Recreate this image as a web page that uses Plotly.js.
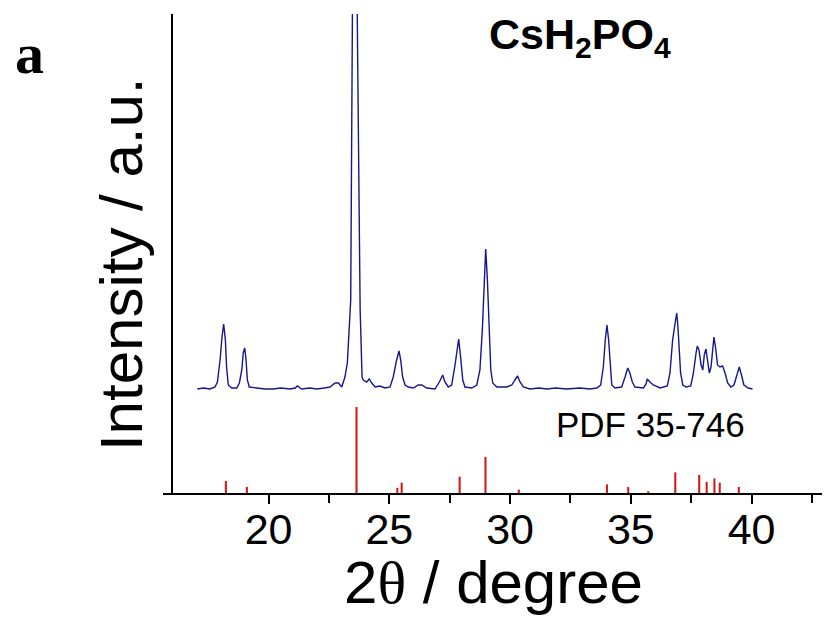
<!DOCTYPE html>
<html>
<head>
<meta charset="utf-8">
<script src="https://cdn.plot.ly/plotly-3.0.1.min.js"></script>
<style>html,body{margin:0;padding:0;background:#fff;}#chart{width:824px;height:625px;}</style>
</head>
<body>
<div id="chart"></div>
<script>
// Measured XRD pattern of CsH2PO4 (2theta in degrees, intensity above background, a.u.)
const xrdTwoTheta = [17.05,17.30,17.57,17.78,17.88,17.99,18.07,18.14,18.21,18.26,18.33,18.47,18.68,18.79,18.89,18.95,19.01,19.06,19.12,19.20,19.51,19.85,20.19,20.50,20.89,21.10,21.19,21.37,21.70,21.99,22.30,22.54,22.75,22.89,23.03,23.16,23.26,23.34,23.40,23.47,23.57,23.67,23.79,23.87,23.92,24.06,24.17,24.27,24.41,24.61,24.82,25.03,25.16,25.30,25.40,25.47,25.55,25.65,25.78,25.99,26.20,26.34,26.55,26.89,27.07,27.21,27.30,27.44,27.58,27.72,27.87,27.95,28.04,28.13,28.41,28.62,28.75,28.85,28.92,28.99,29.06,29.13,29.20,29.28,29.45,29.86,30.07,30.20,30.31,30.41,30.55,30.82,31.20,31.52,31.90,32.34,32.89,33.30,33.59,33.75,33.86,33.94,34.01,34.08,34.14,34.21,34.34,34.62,34.76,34.87,34.96,35.06,35.17,35.52,35.63,35.68,35.79,35.93,36.21,36.51,36.62,36.73,36.84,36.90,36.95,37.01,37.06,37.15,37.28,37.48,37.59,37.70,37.75,37.82,37.91,37.98,38.04,38.11,38.18,38.25,38.32,38.39,38.44,38.51,38.59,38.69,38.80,38.90,39.01,39.14,39.27,39.38,39.49,39.58,39.68,39.86,40.04];
const xrdIntensity = [0,1,0,2,7,29,52,65,49,22,4,1,1,6,19,36,41,31,9,2,1,0,0,1,0,1,3,0,1,0,1,2,6,6,2,12,26,56,89,375,650,375,80,12,9,7,10,6,2,3,1,2,12,29,38,29,12,4,2,1,4,4,1,0,7,14,7,2,4,24,50,32,9,2,1,4,19,59,109,140,109,59,19,6,2,2,4,9,13,7,2,0,1,0,1,0,1,0,1,4,22,49,64,49,22,4,1,2,12,21,16,7,2,1,5,10,7,4,1,3,16,49,67,76,62,39,16,4,2,3,16,36,43,39,24,19,34,40,27,16,22,41,52,41,24,22,23,16,6,2,4,13,22,14,4,1,0];

// Reference pattern PDF 35-746 (2theta, relative intensity %)
const pdfTwoTheta = [18.23,19.10,23.64,25.33,25.51,27.91,28.98,30.36,34.01,34.89,35.72,36.84,37.83,38.14,38.46,38.68,39.47];
const pdfIntensity = [14,7,100,6,12,19,42,4,10,7,2,24,21,13,17,12,7];

// Tick labels
const xTickVals = [20,25,30,35,40];
const xTickText = ['20','25','30','35','40'];
const xMinorVals = [22.5,27.5,32.5,37.5,42.5];

const patternOffset = 104;   // vertical stacking offset of measured pattern
const stickScale = 0.86;     // scale of reference sticks

const measured = {
  x: xrdTwoTheta,
  y: xrdIntensity.map(v => v + patternOffset),
  type: 'scatter', mode: 'lines',
  line: {color: '#16168f', width: 1.4},
  hoverinfo: 'x+y', showlegend: false
};
const sticks = {
  x: pdfTwoTheta,
  y: pdfIntensity.map(v => v * stickScale),
  type: 'bar', width: 0.085,
  marker: {color: '#d01818', line: {width: 0}},
  showlegend: false
};

const AR = 'Arial, "Liberation Sans", sans-serif';
const layout = {
  width: 824, height: 625,
  margin: {l: 163, r: 2, t: 14, b: 132, pad: 0},
  paper_bgcolor: '#fff', plot_bgcolor: '#fff',
  showlegend: false,
  xaxis: {
    range: [15.627, 42.915], autorange: false,
    showgrid: false, zeroline: false,
    showline: true, linecolor: '#000', linewidth: 2,
    tickmode: 'array', tickvals: xTickVals, ticktext: xTickText,
    ticks: 'outside', ticklen: 9, tickwidth: 2, tickcolor: '#000',
    tickfont: {family: AR, size: 43, color: '#000'},
    ticklabelstandoff: -12,
    minor: {tickmode: 'array', tickvals: xMinorVals, ticks: 'outside', ticklen: 8, tickwidth: 2, tickcolor: '#000', showgrid: false}
  },
  yaxis: {
    range: [0, 479], autorange: false,
    showgrid: false, zeroline: false, showline: false,
    ticks: '', showticklabels: false
  },
  shapes: [
    {type: 'line', xref: 'x', yref: 'paper', x0: 16.0, x1: 16.0, y0: 0, y1: 1,
     line: {color: '#000', width: 2}}
  ],
  annotations: [
    {text: '2<span style="font-family:Liberation Serif, Times New Roman, serif">θ</span> / degree',
     xref: 'paper', yref: 'paper', x: 0.5008, y: -0.186, xanchor: 'center', yanchor: 'middle',
     showarrow: false, font: {family: AR, size: 60, color: '#000'}},
    {text: 'Intensity / a.u.', textangle: -90,
     xref: 'paper', yref: 'paper', x: -0.0637, y: 0.478, xanchor: 'center', yanchor: 'middle',
     showarrow: false, font: {family: AR, size: 60, color: '#000'}},
    {text: '<b>a</b>', xref: 'paper', yref: 'paper', x: -0.2033, y: 0.918, xanchor: 'center', yanchor: 'middle',
     showarrow: false, font: {family: '"Liberation Serif", "Times New Roman", serif', size: 58, color: '#000'}},
    {text: '<b>CsH<sub>2</sub>PO<sub>4</sub></b>', xref: 'paper', yref: 'paper', x: 0.6328, y: 0.952,
     xanchor: 'center', yanchor: 'middle',
     showarrow: false, font: {family: AR, size: 43, color: '#000'}},
    {text: 'PDF 35-746', xref: 'paper', yref: 'paper', x: 0.7405, y: 0.142, xanchor: 'center', yanchor: 'middle',
     showarrow: false, font: {family: AR, size: 35, color: '#000'}}
  ]
};

Plotly.newPlot('chart', [sticks, measured], layout, {staticPlot: true, displayModeBar: false});
</script>
</body>
</html>
